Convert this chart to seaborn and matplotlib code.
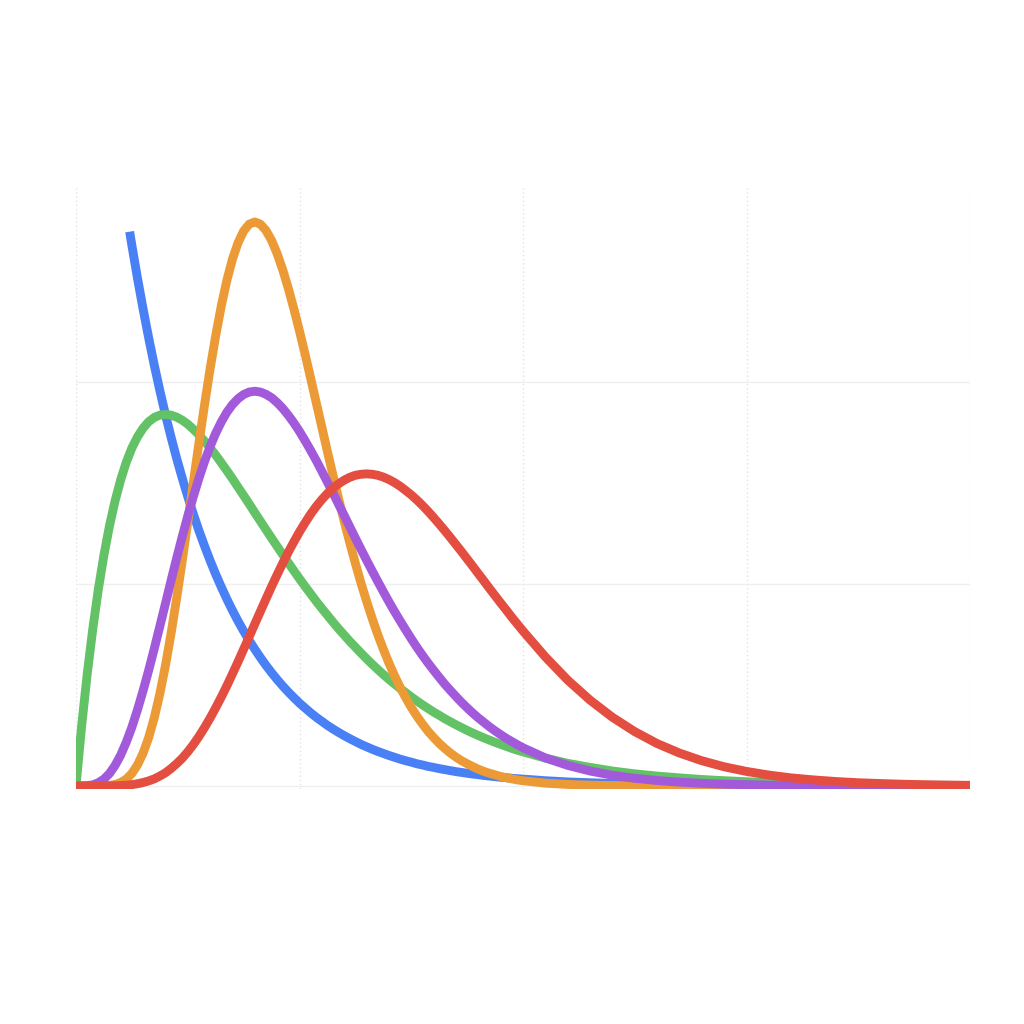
import pandas as pd
import seaborn as sns
import matplotlib
matplotlib.use("Agg")
from matplotlib import pyplot as plt

# x positions: fine steps up to 10, coarser in the flat tail
x_fine = [0, 0.125, 0.25, 0.375, 0.5, 0.625, 0.75, 0.875, 1.0, 1.125, 1.25,
          1.375, 1.5, 1.625, 1.75, 1.875, 2.0, 2.125, 2.25, 2.375, 2.5, 2.625,
          2.75, 2.875, 3.0, 3.125, 3.25, 3.375, 3.5, 3.625, 3.75, 3.875, 4.0,
          4.125, 4.25, 4.375, 4.5, 4.625, 4.75, 4.875, 5.0, 5.125, 5.25,
          5.375, 5.5, 5.625, 5.75, 5.875, 6.0, 6.125, 6.25, 6.375, 6.5, 6.625,
          6.75, 6.875, 7.0, 7.125, 7.25, 7.375, 7.5, 7.625, 7.75, 7.875, 8.0,
          8.125, 8.25, 8.375, 8.5, 8.625, 8.75, 8.875, 9.0, 9.125, 9.25, 9.375,
          9.5, 9.625, 9.75, 9.875, 10.0]
x_tail = [10.5, 11.0, 11.5, 12.0, 12.5, 13.0, 13.5, 14.0, 14.5, 15.0, 15.5,
          16.0, 16.5, 17.0, 17.5, 18.0, 18.5, 19.0, 19.5, 20.0]
x_vals = x_fine + x_tail

# blue is cut off at the top, it only starts at x ~ 1.2
blue_x = [1.2] + x_fine[10:] + x_tail
blue_y = [0.2744, 0.2676, 0.2514, 0.2362, 0.2219, 0.2084, 0.1958, 0.1839,
          0.1728, 0.1623, 0.1525, 0.1433, 0.1346, 0.1264, 0.1188, 0.1116,
          0.1048, 0.0985, 0.0925, 0.0869, 0.0816, 0.0767, 0.0720, 0.0677,
          0.0636, 0.0597, 0.0561, 0.0527, 0.0495, 0.0465, 0.0437, 0.0410,
          0.0386, 0.0362, 0.0340, 0.0320, 0.0300, 0.0282, 0.0265, 0.0249,
          0.0234, 0.0220, 0.0206, 0.0194, 0.0182, 0.0171, 0.0161, 0.0151,
          0.0142, 0.0133, 0.0125, 0.0118, 0.0110, 0.0104, 0.0097, 0.0092,
          0.0086, 0.0081, 0.0076, 0.0071, 0.0067, 0.0063, 0.0059, 0.0056,
          0.0052, 0.0049, 0.0046, 0.0043, 0.0041, 0.0038, 0.0036, 0.0034,
          0.0026, 0.0020, 0.0016, 0.0012, 0.00097, 0.00075, 0.00059, 0.00046,
          0.00036, 0.00028, 0.00022, 0.00017, 0.00013, 0.00010, 0.00008,
          0.00006, 0.00005, 0.00004, 0.00003, 0.00002]

green_y = [0.0, 0.0294, 0.0552, 0.0777, 0.0974, 0.1143, 0.1289, 0.1412,
           0.1516, 0.1603, 0.1673, 0.1728, 0.1771, 0.1803, 0.1824, 0.1836,
           0.1839, 0.1836, 0.1826, 0.1811, 0.1791, 0.1766, 0.1738, 0.1707,
           0.1674, 0.1638, 0.1600, 0.1561, 0.1521, 0.1479, 0.1438, 0.1396,
           0.1353, 0.1311, 0.1269, 0.1227, 0.1186, 0.1145, 0.1105, 0.1065,
           0.1026, 0.0988, 0.0951, 0.0914, 0.0879, 0.0845, 0.0811, 0.0778,
           0.0747, 0.0716, 0.0687, 0.0658, 0.0630, 0.0603, 0.0577, 0.0552,
           0.0528, 0.0505, 0.0483, 0.0462, 0.0441, 0.0421, 0.0402, 0.0384,
           0.0366, 0.0350, 0.0333, 0.0318, 0.0303, 0.0289, 0.0275, 0.0262,
           0.0250, 0.0238, 0.0227, 0.0216, 0.0206, 0.0196, 0.0186, 0.0177,
           0.0169,
           0.0138, 0.0112, 0.0092, 0.0074, 0.0060, 0.0049, 0.0040, 0.0032,
           0.0026, 0.0021, 0.0017, 0.0013, 0.0011, 0.0009, 0.0007, 0.00055,
           0.00044, 0.00036, 0.00028, 0.00023]

orange_y = [0.0, 0.0, 0.0, 0.0, 0.00002, 0.00008, 0.00028, 0.00076, 0.0017,
            0.0034, 0.0062, 0.0104, 0.0162, 0.0239, 0.0337, 0.0456, 0.0595,
            0.0753, 0.0927, 0.1112, 0.1306, 0.1502, 0.1697, 0.1886, 0.2065,
            0.2229, 0.2376, 0.2503, 0.2608, 0.2689, 0.2747, 0.2781, 0.2792,
            0.2781, 0.2750, 0.2701, 0.2635, 0.2555, 0.2463, 0.2361, 0.2252,
            0.2137, 0.2018, 0.1897, 0.1776, 0.1655, 0.1537, 0.1422, 0.1310,
            0.1204, 0.1102, 0.1005, 0.0915, 0.0830, 0.0750, 0.0677, 0.0609,
            0.0546, 0.0489, 0.0437, 0.0389, 0.0346, 0.0307, 0.0271, 0.0240,
            0.0211, 0.0186, 0.0163, 0.0143, 0.0125, 0.0110, 0.0096, 0.0083,
            0.0072, 0.0063, 0.0055, 0.0047, 0.0041, 0.0035, 0.0030, 0.0026,
            0.0014, 0.00076, 0.0004, 0.00021, 0.0001, 0.00005, 0.00003,
            0.00001, 0.00001, 0.0, 0.0, 0.0, 0.0, 0.0, 0.0, 0.0, 0.0, 0.0,
            0.0, 0.0]

purple_y = [0.0, 0.00001, 0.00013, 0.00057, 0.0016, 0.0034, 0.0062, 0.0102,
            0.0153, 0.0217, 0.0291, 0.0377, 0.0471, 0.0572, 0.0679, 0.0790,
            0.0902, 0.1015, 0.1126, 0.1233, 0.1336, 0.1433, 0.1523, 0.1606,
            0.1680, 0.1746, 0.1802, 0.1850, 0.1888, 0.1917, 0.1938, 0.1950,
            0.1954, 0.1950, 0.1939, 0.1922, 0.1898, 0.1869, 0.1835, 0.1797,
            0.1755, 0.1709, 0.1661, 0.1611, 0.1558, 0.1504, 0.1450, 0.1394,
            0.1339, 0.1283, 0.1227, 0.1172, 0.1118, 0.1065, 0.1013, 0.0962,
            0.0912, 0.0864, 0.0818, 0.0773, 0.0729, 0.0687, 0.0647, 0.0609,
            0.0573, 0.0538, 0.0504, 0.0473, 0.0443, 0.0414, 0.0387, 0.0361,
            0.0337, 0.0315, 0.0293, 0.0273, 0.0254, 0.0236, 0.0220, 0.0204,
            0.0189,
            0.0139, 0.0102, 0.0074, 0.0053, 0.0038, 0.0027, 0.0019, 0.0013,
            0.0009, 0.00065, 0.00045, 0.00031, 0.00021, 0.00014, 0.0001,
            0.00007, 0.00005, 0.00003, 0.00002, 0.00001]

red_y = [0.0, 0.0, 0.0, 0.0, 0.000004, 0.000014, 0.00004, 0.00009, 0.0002,
         0.00037, 0.00065, 0.0011, 0.0017, 0.0025, 0.0035, 0.0049, 0.0065,
         0.0086, 0.0110, 0.0137, 0.0169, 0.0205, 0.0245, 0.0289, 0.0336,
         0.0387, 0.0440, 0.0496, 0.0555, 0.0615, 0.0677, 0.0739, 0.0802,
         0.0864, 0.0926, 0.0987, 0.1046, 0.1103, 0.1158, 0.1209, 0.1258,
         0.1303, 0.1346, 0.1384, 0.1418, 0.1448, 0.1474, 0.1496, 0.1514,
         0.1528, 0.1538, 0.1543, 0.1545, 0.1543, 0.1538, 0.1529, 0.1517,
         0.1502, 0.1484, 0.1463, 0.1441, 0.1416, 0.1389, 0.1360, 0.1329,
         0.1297, 0.1264, 0.1230, 0.1195, 0.1160, 0.1124, 0.1088, 0.1051,
         0.1015, 0.0978, 0.0942, 0.0906, 0.0871, 0.0835, 0.0801, 0.0767,
         0.0639, 0.0524, 0.0425, 0.0340, 0.0269, 0.0210, 0.0163, 0.0125,
         0.0095, 0.0072, 0.0054, 0.0040, 0.0030, 0.0022, 0.0016, 0.0012,
         0.00085, 0.00061, 0.00044, 0.00032]

# drawing order = stacking order seen in the picture (red on top)
series_names = ["k=1, θ=2", "k=2, θ=2", "k=9, θ=0.5", "k=5, θ=1", "k=7.5, θ=1"]
colors = ["#4a80f5", "#62c265", "#ec9a36", "#a25adb", "#e34e40"]

frames = [
    pd.DataFrame({"x": blue_x, "density": blue_y, "series": series_names[0]}),
    pd.DataFrame({"x": x_vals, "density": green_y, "series": series_names[1]}),
    pd.DataFrame({"x": x_vals, "density": orange_y, "series": series_names[2]}),
    pd.DataFrame({"x": x_vals, "density": purple_y, "series": series_names[3]}),
    pd.DataFrame({"x": x_vals, "density": red_y, "series": series_names[4]}),
]
df = pd.concat(frames, ignore_index=True)

sns.set_theme(style="white")

fig = plt.figure(figsize=(10.24, 10.24), dpi=100, facecolor="white")
ax = fig.add_axes([76 / 1024, 1 - 789 / 1024, 894 / 1024, 604 / 1024])

sns.lineplot(data=df, x="x", y="density", hue="series", hue_order=series_names,
             palette=colors, linewidth=6.4, estimator=None, sort=False,
             legend=False, ax=ax)

for line in ax.lines:
    line.set_solid_capstyle("butt")
    line.set_solid_joinstyle("round")

ax.set_xlim(0, 20)
ax.set_ylim(-0.0015, 0.2975)
ax.set_xticks([0, 5, 10, 15, 20])
ax.set_yticks([0, 0.1, 0.2])
ax.grid(axis="x", color="#e2e2e2", linestyle=(0, (1, 2)), linewidth=1)
ax.grid(axis="y", color="#efefef", linestyle="-", linewidth=1)
ax.set_axisbelow(True)
ax.tick_params(length=0, labelbottom=False, labelleft=False)
ax.set_xlabel("")
ax.set_ylabel("")
for spine in ax.spines.values():
    spine.set_visible(False)

fig.savefig("out.png", dpi=100, facecolor="white")
